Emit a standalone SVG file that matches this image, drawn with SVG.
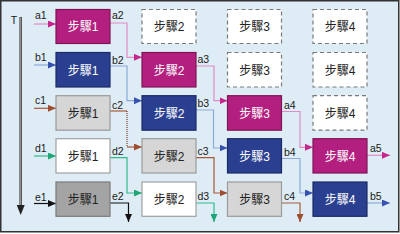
<svg xmlns="http://www.w3.org/2000/svg" width="400" height="234" viewBox="0 0 400 234">
<style>
.bx{stroke-width:1.2}
.mg{fill:#b31f7e;stroke:#7d1456}
.nv{fill:#2b3f91;stroke:#1b2a66}
.lg{fill:#d6d6d6;stroke:#9a9a9a}
.dg{fill:#a4a4a4;stroke:#7a7a7a}
.wh{fill:#ffffff;stroke:#a0a0a0}
.ds{fill:#ffffff;stroke:#7a7a7a;stroke-dasharray:4 3}
.t{font-family:"Liberation Sans","Noto Sans CJK TC",sans-serif;font-size:12px;text-anchor:middle}
.tw{fill:#ffffff}
.tk{fill:#222222}
.lb{font-family:"Liberation Sans",Arial,sans-serif;font-size:10.5px;fill:#1a1a1a}
.la{fill:none;stroke:#e38ac6;stroke-width:1.2}
.lbb{fill:none;stroke:#8ea8da;stroke-width:1.2}
.lc{fill:none;stroke:#a8583a;stroke-width:1.2}
.ld{fill:none;stroke:#2fbb8a;stroke-width:1.2}
.le{fill:none;stroke:#111111;stroke-width:1.2}
</style>
<defs>
<marker id="ha" markerWidth="8" markerHeight="7" refX="8" refY="3.5" orient="auto" markerUnits="userSpaceOnUse"><path d="M0,0 L8,3.5 L0,7 z" fill="#c4268c"/></marker>
<marker id="hb" markerWidth="8" markerHeight="7" refX="8" refY="3.5" orient="auto" markerUnits="userSpaceOnUse"><path d="M0,0 L8,3.5 L0,7 z" fill="#3651b0"/></marker>
<marker id="hc" markerWidth="8" markerHeight="7" refX="8" refY="3.5" orient="auto" markerUnits="userSpaceOnUse"><path d="M0,0 L8,3.5 L0,7 z" fill="#a04e30"/></marker>
<marker id="hd" markerWidth="8" markerHeight="7" refX="8" refY="3.5" orient="auto" markerUnits="userSpaceOnUse"><path d="M0,0 L8,3.5 L0,7 z" fill="#1fa676"/></marker>
<marker id="he" markerWidth="8" markerHeight="7" refX="8" refY="3.5" orient="auto" markerUnits="userSpaceOnUse"><path d="M0,0 L8,3.5 L0,7 z" fill="#111111"/></marker>
</defs>
<rect x="0" y="0" width="400" height="234" fill="#ffffff"/>
<rect x="0.75" y="0.75" width="398" height="231" fill="#deedf5" stroke="#333333" stroke-width="1.5"/>

<g id="axis">
<text x="14" y="24" class="lb" font-size="11" text-anchor="middle">T</text>
<line x1="20.7" y1="17" x2="20.7" y2="207" stroke="#444444" stroke-width="2.6"/>
<line x1="20.7" y1="17.5" x2="20.7" y2="207" stroke="#b0b0b0" stroke-width="0.9"/>
<path d="M16.7,205 L20.7,215 L24.7,205 z" fill="#222222"/>
</g>

<g id="connectors">
<!-- inputs -->
<line x1="34" y1="24" x2="56" y2="24" class="la" marker-end="url(#ha)"/>
<line x1="34" y1="65" x2="56" y2="65" class="lbb" marker-end="url(#hb)"/>
<line x1="34" y1="108.3" x2="56" y2="108.3" class="lc" marker-end="url(#hc)"/>
<line x1="34" y1="156" x2="56" y2="156" class="ld" marker-end="url(#hd)"/>
<line x1="34" y1="203.5" x2="56" y2="203.5" class="le" marker-end="url(#he)"/>
<!-- col1 -> col2 -->
<path d="M110,23 H127 V57.3 H142" class="la" marker-end="url(#ha)"/>
<path d="M110,66 H127 V100.7 H142" class="lbb" marker-end="url(#hb)"/>
<path d="M110,111 H127" class="lc"/>
<path d="M127,111 V147" fill="none" stroke="#7a3a22" stroke-width="1.2" stroke-dasharray="1 1"/>
<path d="M127,147 H142" class="lc" marker-end="url(#hc)"/>
<path d="M110,157.7 H127 V193 H142" class="ld" marker-end="url(#hd)"/>
<path d="M110,203 H128.5 V222" class="le" marker-end="url(#he)"/>
<!-- col2 -> col3 -->
<path d="M196,66 H214 V100.7 H227.5" class="la" marker-end="url(#ha)"/>
<path d="M196,110 H213.5 V148 H227.5" class="lbb" marker-end="url(#hb)"/>
<path d="M196,157.7 H214 V193 H227.5" class="lc" marker-end="url(#hc)"/>
<path d="M196,203 H214 V222" class="ld" marker-end="url(#hd)"/>
<!-- col3 -> col4 -->
<path d="M281.5,111.5 H300 V147.3 H313" class="la" marker-end="url(#ha)"/>
<path d="M281.5,158.5 H300 V193 H313" class="lbb" marker-end="url(#hb)"/>
<path d="M281.5,203 H300 V222" class="lc" marker-end="url(#hc)"/>
<!-- outputs -->
<path d="M367,155.3 H390" class="la" marker-end="url(#ha)"/>
<path d="M367,203 H390" class="lbb" marker-end="url(#hb)"/>
<!-- labels -->
<text x="35" y="19" class="lb">a1</text>
<text x="35" y="61" class="lb">b1</text>
<text x="35" y="103.5" class="lb">c1</text>
<text x="35" y="152" class="lb">d1</text>
<text x="35" y="200.5" class="lb">e1</text>
<text x="112" y="19" class="lb">a2</text>
<text x="112" y="63.5" class="lb">b2</text>
<text x="112" y="109" class="lb">c2</text>
<text x="112" y="154.5" class="lb">d2</text>
<text x="112" y="200" class="lb">e2</text>
<text x="197.5" y="63" class="lb">a3</text>
<text x="197.5" y="107" class="lb">b3</text>
<text x="197.5" y="154.5" class="lb">c3</text>
<text x="197.5" y="200" class="lb">d3</text>
<text x="284" y="109" class="lb">a4</text>
<text x="284" y="155.5" class="lb">b4</text>
<text x="284" y="200" class="lb">c4</text>
<text x="370" y="152" class="lb">a5</text>
<text x="370" y="200" class="lb">b5</text>
</g>

<g id="r1c1"><rect x="56" y="9.5" width="54" height="34" class="bx mg"/><text x="83" y="31" class="t tw">步驟1</text></g>
<g id="r1c2"><rect x="142" y="9.5" width="54" height="34" class="bx ds"/><text x="169" y="31" class="t tk">步驟2</text></g>
<g id="r1c3"><rect x="227.5" y="9.5" width="54" height="34" class="bx ds"/><text x="254.5" y="31" class="t tk">步驟3</text></g>
<g id="r1c4"><rect x="313" y="9.5" width="54" height="34" class="bx ds"/><text x="340" y="31" class="t tk">步驟4</text></g>

<g id="r2c1"><rect x="56" y="52.5" width="54" height="34.5" class="bx nv"/><text x="83" y="74.5" class="t tw">步驟1</text></g>
<g id="r2c2"><rect x="142" y="52.5" width="54" height="34.5" class="bx mg"/><text x="169" y="74.5" class="t tw">步驟2</text></g>
<g id="r2c3"><rect x="227.5" y="52.5" width="54" height="34.5" class="bx ds"/><text x="254.5" y="74.5" class="t tk">步驟3</text></g>
<g id="r2c4"><rect x="313" y="52.5" width="54" height="34.5" class="bx ds"/><text x="340" y="74.5" class="t tk">步驟4</text></g>

<g id="r3c1"><rect x="56" y="95.7" width="54" height="34.5" class="bx lg"/><text x="83" y="117.7" class="t tk">步驟1</text></g>
<g id="r3c2"><rect x="142" y="95.7" width="54" height="34.5" class="bx nv"/><text x="169" y="117.7" class="t tw">步驟2</text></g>
<g id="r3c3"><rect x="227.5" y="95.7" width="54" height="34.5" class="bx mg"/><text x="254.5" y="117.7" class="t tw">步驟3</text></g>
<g id="r3c4"><rect x="313" y="95.7" width="54" height="34.5" class="bx ds"/><text x="340" y="117.7" class="t tk">步驟4</text></g>

<g id="r4c1"><rect x="56" y="138.7" width="54" height="34.3" class="bx wh"/><text x="83" y="160.5" class="t tk">步驟1</text></g>
<g id="r4c2"><rect x="142" y="138.7" width="54" height="34.3" class="bx lg"/><text x="169" y="160.5" class="t tk">步驟2</text></g>
<g id="r4c3"><rect x="227.5" y="138.7" width="54" height="34.3" class="bx nv"/><text x="254.5" y="160.5" class="t tw">步驟3</text></g>
<g id="r4c4"><rect x="313" y="138.7" width="54" height="34.3" class="bx mg"/><text x="340" y="160.5" class="t tw">步驟4</text></g>

<g id="r5c1"><rect x="56" y="182" width="54" height="34.3" class="bx dg"/><text x="83" y="203.8" class="t tk">步驟1</text></g>
<g id="r5c2"><rect x="142" y="182" width="54" height="34.3" class="bx wh"/><text x="169" y="203.8" class="t tk">步驟2</text></g>
<g id="r5c3"><rect x="227.5" y="182" width="54" height="34.3" class="bx lg"/><text x="254.5" y="203.8" class="t tk">步驟3</text></g>
<g id="r5c4"><rect x="313" y="182" width="54" height="34.3" class="bx nv"/><text x="340" y="203.8" class="t tw">步驟4</text></g>
</svg>
